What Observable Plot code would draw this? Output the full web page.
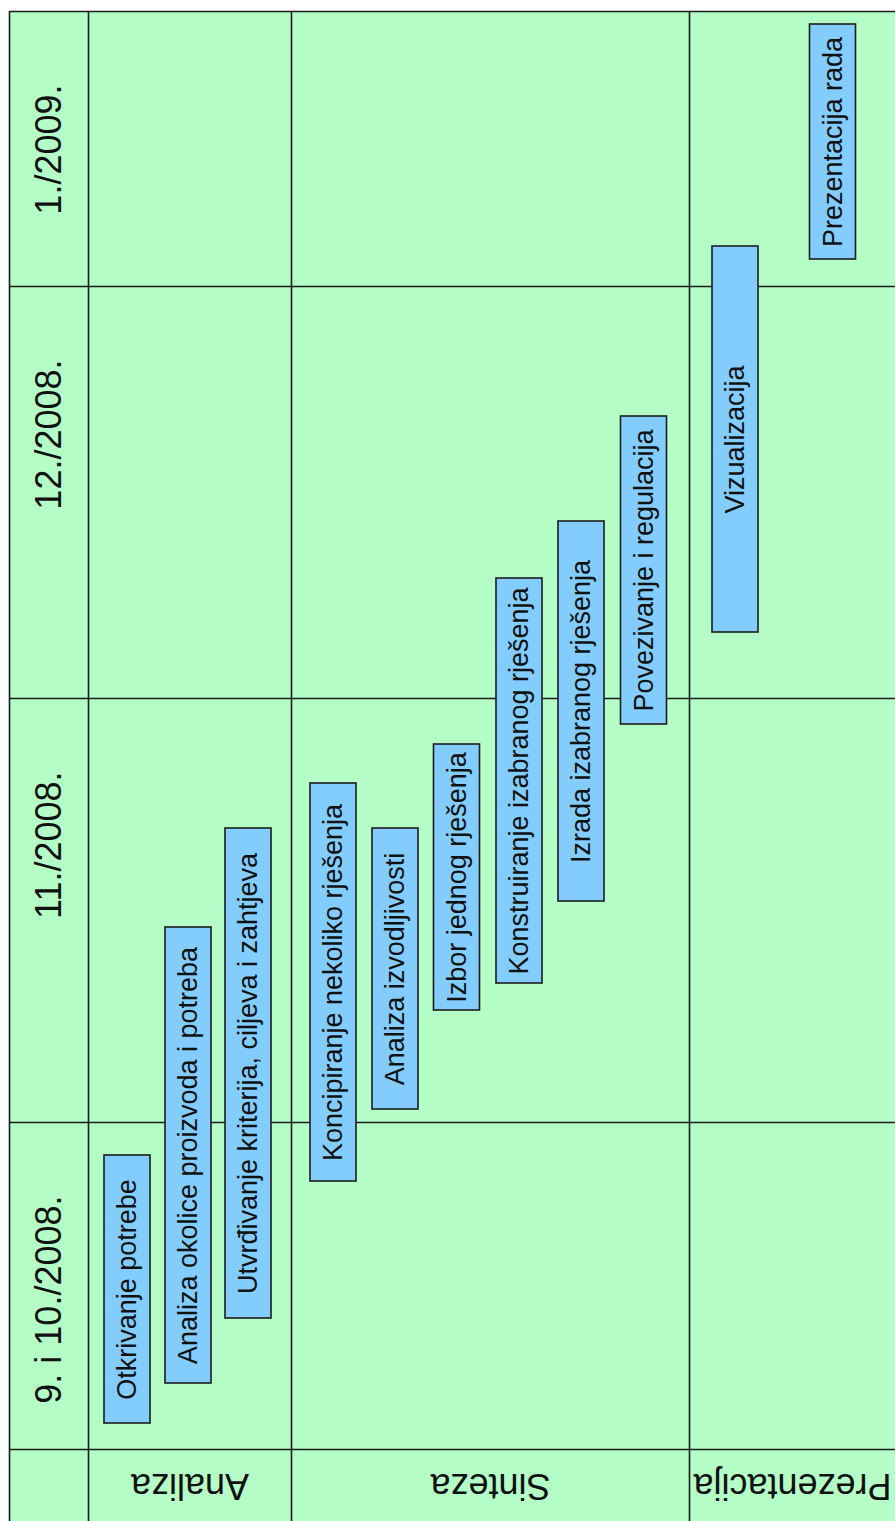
<!DOCTYPE html>
<html>
<head>
<meta charset="utf-8">
<script src="https://cdn.jsdelivr.net/npm/d3@7"></script>
<script src="https://cdn.jsdelivr.net/npm/@observablehq/plot@0.6"></script>
<style>
  html, body { margin: 0; padding: 0; background: #ffffff; overflow: hidden; }
  #chart svg { display: block; }
</style>
</head>
<body>
<div id="chart"></div>
<script>
// Time periods (vertical axis, abstract schedule units; later = higher)
const periods = ["9. i 10./2008.", "11./2008.", "12./2008.", "1./2009."];
const periodStart = [0, 32.7, 75.1, 116.3];
const periodEnd = [32.7, 75.1, 116.3, 143.8];

// Phases (horizontal lanes, column units)
const phases = ["Analiza", "Sinteza", "Prezentacija"];
const phaseStart = [7.9, 28.2, 68.0];
const phaseEnd = [28.2, 68.0, 88.6];

// Header column and header row extents
const headerColumn = [0, 7.9];
const headerRow = [-7.2, 0];

// Tasks
const taskNames = [
  "Otkrivanje potrebe",
  "Analiza okolice proizvoda i potreba",
  "Utvrđivanje kriterija, ciljeva i zahtjeva",
  "Koncipiranje nekoliko rješenja",
  "Analiza izvodljivosti",
  "Izbor jednog rješenja",
  "Konstruiranje izabranog rješenja",
  "Izrada izabranog rješenja",
  "Povezivanje i regulacija",
  "Vizualizacija",
  "Prezentacija rada"
];
const taskPhase = ["Analiza", "Analiza", "Analiza", "Sinteza", "Sinteza", "Sinteza", "Sinteza", "Sinteza", "Sinteza", "Prezentacija", "Prezentacija"];
const taskColumn = [11.8, 17.9, 23.9, 32.4, 38.6, 44.75, 51.0, 57.2, 63.45, 72.6, 82.35];
const taskStart = [2.6, 6.6, 13.1, 26.8, 34.0, 43.9, 46.6, 54.8, 72.5, 81.7, 119.0];
const taskEnd = [29.4, 52.2, 62.1, 66.6, 62.1, 70.5, 87.1, 92.8, 103.3, 120.3, 142.5];

// ---- build tables ----
const tasks = taskNames.map((name, i) => ({
  name, phase: taskPhase[i], col: taskColumn[i], start: taskStart[i], end: taskEnd[i]
}));
const periodRows = periods.map((p, i) => ({ label: p, y1: periodStart[i], y2: periodEnd[i] }));
const phaseRows = phases.map((p, i) => ({ label: p, x1: phaseStart[i], x2: phaseEnd[i] }));

const xMin = headerColumn[0];
const xMax = d3.max(phaseEnd);
const yMin = headerRow[0];
const yMax = d3.max(periodEnd);

const verticalLines = [headerColumn[0], headerColumn[1], ...phaseStart.slice(1)];
const horizontalLines = [headerRow[1], ...periodEnd];

const HALF_BAR = 2.3;
const GREEN = "#b4fdc7";
const BLUE = "#82cdfd";
const INK = "#1c1c1c";
const FONT = "'Liberation Sans', Arial, Helvetica, sans-serif";

const chart = Plot.plot({
  width: 895,
  height: 1521,
  marginLeft: 9,
  marginRight: 0,
  marginTop: 11,
  marginBottom: 0,
  x: { domain: [xMin, xMax], axis: null },
  y: { domain: [yMin, yMax], axis: null },
  style: { fontFamily: FONT, background: "#ffffff", overflow: "visible" },
  marks: [
    // table background
    Plot.rect([{}], { x1: xMin, x2: xMax, y1: yMin, y2: yMax, fill: GREEN }),
    // grid lines
    Plot.ruleX(verticalLines, { x: d => d, y1: yMin, y2: yMax, stroke: INK, strokeWidth: 1.6 }),
    Plot.ruleY(horizontalLines, { y: d => d, x1: xMin, x2: xMax, stroke: INK, strokeWidth: 1.6 }),
    // task bars
    Plot.rect(tasks, {
      x1: d => d.col - HALF_BAR, x2: d => d.col + HALF_BAR,
      y1: "start", y2: "end",
      fill: BLUE, stroke: INK, strokeWidth: 1.6
    }),
    Plot.text(tasks, {
      x: "col", y: d => (d.start + d.end) / 2, text: "name",
      rotate: -90, fontSize: 27, fill: "#111111"
    }),
    // period header labels (aligned near the top of each period)
    Plot.text(periodRows, {
      x: (headerColumn[0] + headerColumn[1]) / 2, y: "y2", text: "label",
      rotate: -90, textAnchor: "end", dy: 73, fontSize: 36, fill: "#111111"
    }),
    // phase header labels (upside down)
    Plot.text(phaseRows, {
      x: d => (d.x1 + d.x2) / 2, y: (headerRow[0] + headerRow[1]) / 2, text: "label",
      rotate: 180, fontSize: 36, fill: "#111111"
    })
  ]
});
document.getElementById("chart").appendChild(chart);
</script>
</body>
</html>
